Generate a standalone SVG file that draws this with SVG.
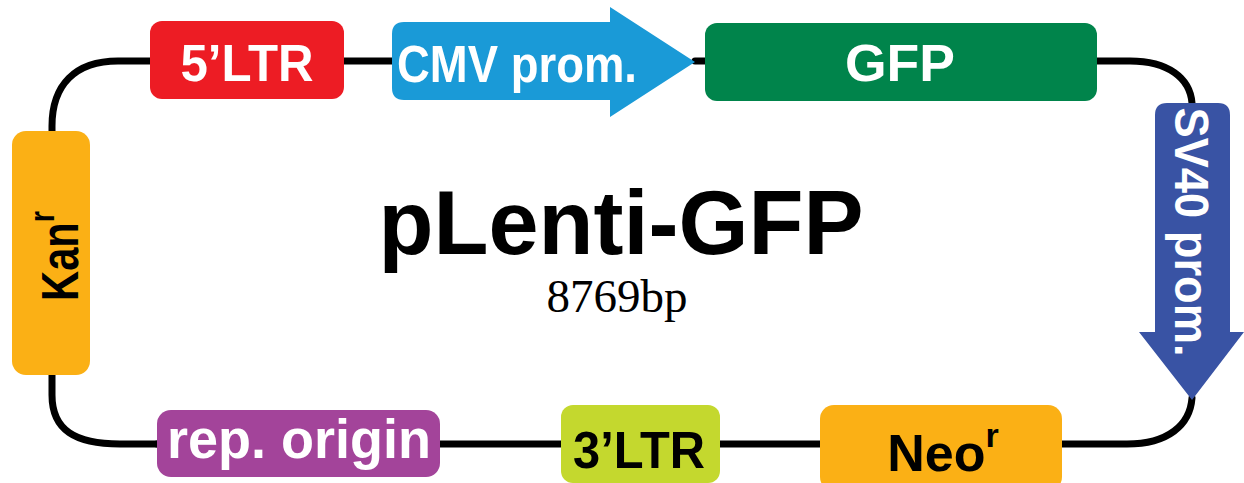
<svg xmlns="http://www.w3.org/2000/svg" width="1244" height="483" viewBox="0 0 1244 483">
<style>
.lbl{font-family:"Liberation Sans",Arial,sans-serif;font-weight:bold;font-size:50px;text-anchor:middle}
.w{fill:#ffffff}
.k{fill:#000000}
.conn{fill:none;stroke:#000;stroke-width:7;stroke-linecap:round;stroke-linejoin:round}
</style>
<rect width="1244" height="483" fill="#ffffff"/>
<g id="connectors">
<path class="conn" d="M52 131 L52 126 C52 85 75 61 118 61 L392 61"/>
<path class="conn" d="M695 61 L1130 61 C1168 61 1190 78 1192 103"/>
<path class="conn" d="M1192 398 C1190 425 1168 444 1127 444 L157 444"/>
<path class="conn" d="M157 444 L120 444 C75 444 52 430 52 395 L52 375"/>
</g>
<g id="ltr5">
<rect x="150" y="21" width="194" height="78" rx="12" fill="#ED1C24"/>
<text class="lbl w" x="247" y="81" style="font-size:52px" textLength="133" lengthAdjust="spacingAndGlyphs">5’LTR</text>
</g>
<g id="cmv">
<path d="M404 22 L610 22 L610 7 L695 62 L610 117 L610 100 L404 100 Q392 100 392 88 L392 34 Q392 22 404 22 Z" fill="#1A9AD7"/>
<text class="lbl w" x="517" y="82" style="font-size:52px" textLength="240" lengthAdjust="spacingAndGlyphs">CMV prom.</text>
</g>
<g id="gfp">
<rect x="705" y="23" width="392" height="78" rx="12" fill="#00844B"/>
<text class="lbl w" x="900" y="81" style="font-size:52px" textLength="110" lengthAdjust="spacingAndGlyphs">GFP</text>
</g>
<g id="sv40">
<path d="M1167 103 L1218 103 Q1230 103 1230 115 L1230 332 L1244 332 L1192 400 L1139 332 L1155 332 L1155 115 Q1155 103 1167 103 Z" fill="#3953A4"/>
<text class="lbl w" transform="translate(1175,232) rotate(90)" x="0" y="0" style="font-size:48px" textLength="249" lengthAdjust="spacingAndGlyphs">SV40 prom.</text>
</g>
<g id="neo">
<rect x="820" y="405" width="242" height="86" rx="14" fill="#FBB015"/>
<text class="lbl k" x="943" y="471" style="font-size:52px">Neo<tspan style="font-size:34px" dy="-24">r</tspan></text>
</g>
<g id="ltr3">
<rect x="561" y="405" width="159" height="78" rx="12" fill="#C4D82E"/>
<text class="lbl k" x="639" y="468" style="font-size:52px" textLength="132" lengthAdjust="spacingAndGlyphs">3’LTR</text>
</g>
<g id="ori">
<rect x="157" y="410" width="283" height="67" rx="14" fill="#A3449A"/>
<text class="lbl w" x="299" y="458" style="font-size:55px" textLength="264" lengthAdjust="spacingAndGlyphs">rep. origin</text>
</g>
<g id="kan">
<rect x="12" y="131" width="78" height="244" rx="14" fill="#FBB015"/>
<text class="lbl k" transform="translate(78,256) rotate(-90) scale(0.8,1)" style="font-size:52px">Kan<tspan style="font-size:36px" dy="-24">r</tspan></text>
</g>
<g id="title">
<text x="621" y="254" style="font-family:'Liberation Sans',Arial,sans-serif;font-weight:bold;font-size:90px;text-anchor:middle">pLenti-GFP</text>
<text x="617" y="312" style="font-family:'Liberation Serif','Times New Roman',serif;font-size:47px;text-anchor:middle">8769bp</text>
</g>
</svg>
